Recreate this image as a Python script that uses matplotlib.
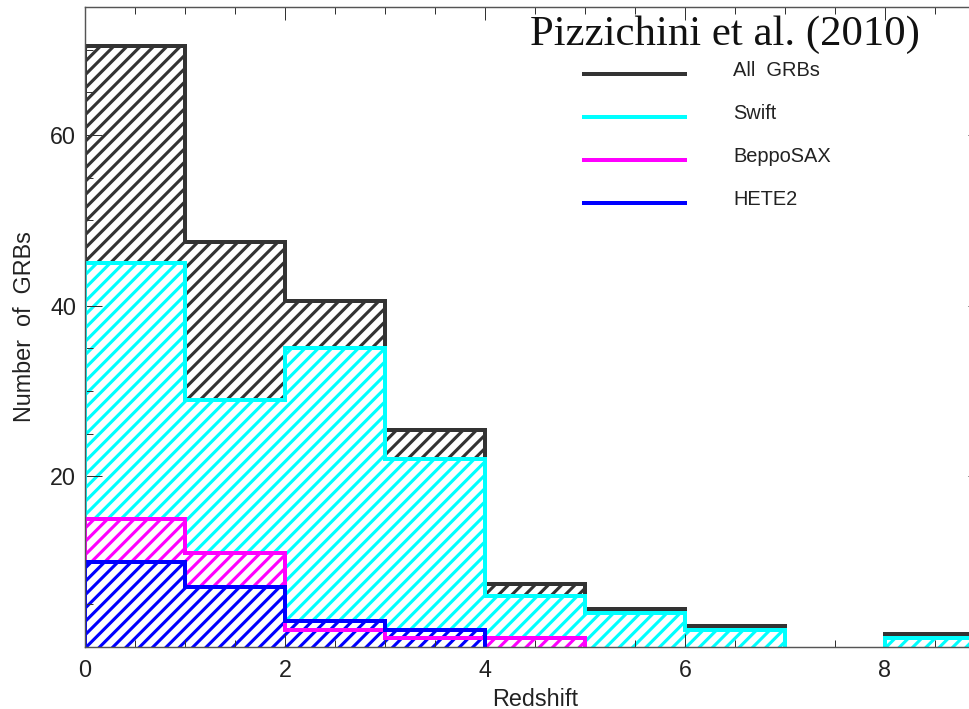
#!/usr/bin/env python3
"""
GRB redshift distribution: hatched step histograms for the whole sample
and for the Swift, BeppoSAX and HETE2 subsamples.
"""
import numpy as np
import matplotlib
matplotlib.use('Agg')
import matplotlib.pyplot as plt
from matplotlib.ticker import MultipleLocator, FixedLocator

# redshift bins (width 1)
BIN_EDGES = [0, 1, 2, 3, 4, 5, 6, 7, 8, 9]

# counts per bin
ALL_GRBS  = [70.4, 47.5, 40.5, 25.4, 7.4, 4.5, 2.5, 0, 1.5]
SWIFT     = [45, 29, 35, 22, 6, 4, 2, 0, 1]
BEPPOSAX  = [15, 11, 2, 1, 1, 0, 0, 0, 0]
HETE2     = [10, 7, 3, 2, 0, 0, 0, 0, 0]

SERIES_NAMES = ['All  GRBs', 'Swift', 'BeppoSAX', 'HETE2']
SERIES_COLORS = ['#333333', '#00ffff', '#ff00ff', '#0000ff']

DPI = 80
W, H = 969, 709
AX_L, AX_R, AX_T, AX_B = 85, 985, 7, 647   # axes box in pixels

plt.rcParams['font.family'] = ['Liberation Sans', 'DejaVu Sans']
plt.rcParams['hatch.linewidth'] = 2.8


def nonzero_runs(vals):
    """Index ranges [i0, i1) of consecutive non-empty bins."""
    idx = np.flatnonzero(np.asarray(vals) > 0)
    if len(idx) == 0:
        return []
    breaks = np.flatnonzero(np.diff(idx) > 1)
    starts = np.r_[idx[0], idx[breaks + 1]]
    ends = np.r_[idx[breaks], idx[-1]] + 1
    return list(zip(starts, ends))


def main():
    fig = plt.figure(figsize=(W / DPI, H / DPI), dpi=DPI)
    ax = fig.add_axes([AX_L / W, (H - AX_B) / H,
                       (AX_R - AX_L) / W, (AX_B - AX_T) / H])

    series = [ALL_GRBS, SWIFT, BEPPOSAX, HETE2]
    edges = np.asarray(BIN_EDGES, dtype=float)

    # white-backed hatched areas first, in stacking order
    for vals, col in zip(series, SERIES_COLORS):
        for i0, i1 in nonzero_runs(vals):
            ax.stairs(vals[i0:i1], edges[i0:i1 + 1], fill=True,
                      facecolor='white', edgecolor=col, hatch='//',
                      linewidth=0, zorder=1)

    # then the thick step outlines
    for vals, col in zip(series, SERIES_COLORS):
        for i0, i1 in nonzero_runs(vals):
            ax.stairs(vals[i0:i1], edges[i0:i1 + 1], color=col,
                      linewidth=3.6, zorder=2)

    ax.set_xlim(0, 9)
    ax.set_ylim(0, 75)
    ax.xaxis.set_major_locator(MultipleLocator(2))
    ax.xaxis.set_minor_locator(MultipleLocator(0.5))
    ax.yaxis.set_major_locator(FixedLocator([20, 40, 60]))
    ax.yaxis.set_minor_locator(MultipleLocator(5))

    ax.tick_params(which='both', direction='in', top=True, right=True,
                   color='#333333', width=0.9, labelsize=21,
                   labelcolor='#222222')
    ax.tick_params(axis='x', which='major', length=11.5, pad=11)
    ax.tick_params(axis='x', which='minor', length=6)
    ax.tick_params(axis='y', which='major', length=15, pad=8)
    ax.tick_params(axis='y', which='minor', length=7.5)
    for sp in ax.spines.values():
        sp.set_color('#555555')
        sp.set_linewidth(1.3)
        sp.set_zorder(3)

    ax.set_xlabel('Redshift', fontsize=21, color='#222222', labelpad=5)
    ax.set_ylabel('Number  of  GRBs', fontsize=21, color='#222222',
                  labelpad=13)

    # legend drawn by hand: short line + label
    aw, ah = AX_R - AX_L, AX_B - AX_T
    x0, x1, xt = (584 - AX_L) / aw, (685 - AX_L) / aw, (733 - AX_L) / aw
    for k, (name, col) in enumerate(zip(SERIES_NAMES, SERIES_COLORS)):
        yl = (AX_B - (74 + 43 * k)) / ah
        ax.plot([x0, x1], [yl, yl], color=col, linewidth=3.6,
                transform=ax.transAxes, clip_on=False, zorder=4)
        ax.text(xt, yl - 2 / ah, name, transform=ax.transAxes,
                fontsize=18, color='#222222', ha='left', va='baseline')

    ax.text((530 - AX_L) / aw, (AX_B - 45) / ah, 'Pizzichini et al. (2010)',
            transform=ax.transAxes, fontsize=38.5, ha='left', va='baseline',
            family=['Liberation Serif', 'DejaVu Serif'], color='#111111')

    fig.savefig('out.png', dpi=DPI)


if __name__ == '__main__':
    main()
